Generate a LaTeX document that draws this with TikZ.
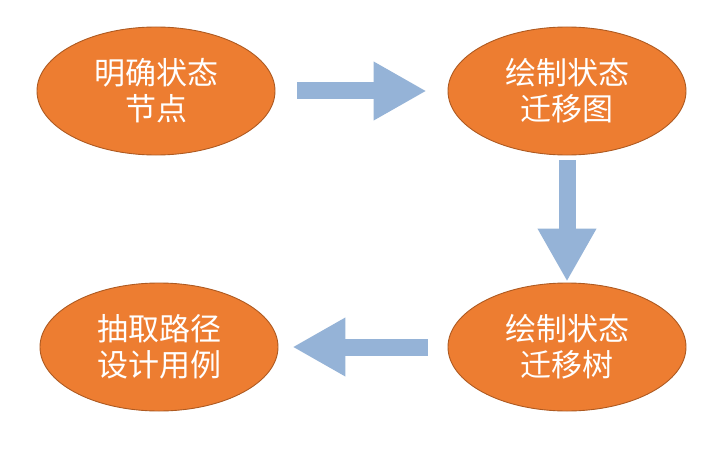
\documentclass[tikz,border=0pt]{standalone}
\usepackage{fontspec}
\newfontfamily\cjk{Noto Sans CJK SC}
\usepackage{tikz}
\usetikzlibrary{arrows.meta,shapes.geometric}
\definecolor{stfill}{HTML}{ED7D31}
\definecolor{stline}{HTML}{AE5A21}
\definecolor{arrblue}{HTML}{95B3D7}
\tikzset{
  state/.style    = {ellipse,draw=stline,fill=stfill,line width=0.9pt,
                     minimum width=238pt,minimum height=128pt,inner sep=0pt,
                     align=center,text=white,font=\cjk\fontsize{31}{36}\selectfont},
  blockarr/.style = {-{Triangle[length=53pt,width=55pt]},arrblue,line width=17pt}
}
\begin{document}
\begin{tikzpicture}[x=1pt,y=-1pt]
  \useasboundingbox[fill=white] (0,0) rectangle (726,460);
  \node[state] (define) at (156,91)  {明确状态\\节点};
  \node[state] (graph)  at (567,91)  {绘制状态\\迁移图};
  \node[state] (tree)   at (567,347) {绘制状态\\迁移树};
  \node[state] (cases)  at (159,347) {抽取路径\\设计用例};
  \draw[blockarr,shorten <=22pt,shorten >=21pt] (define) -- (graph);
  \draw[blockarr,shorten <=5pt,shorten >=1pt] (graph) -- (tree);
  \draw[blockarr,shorten <=20pt,shorten >=14pt] (tree) -- (cases);
\end{tikzpicture}
\end{document}
